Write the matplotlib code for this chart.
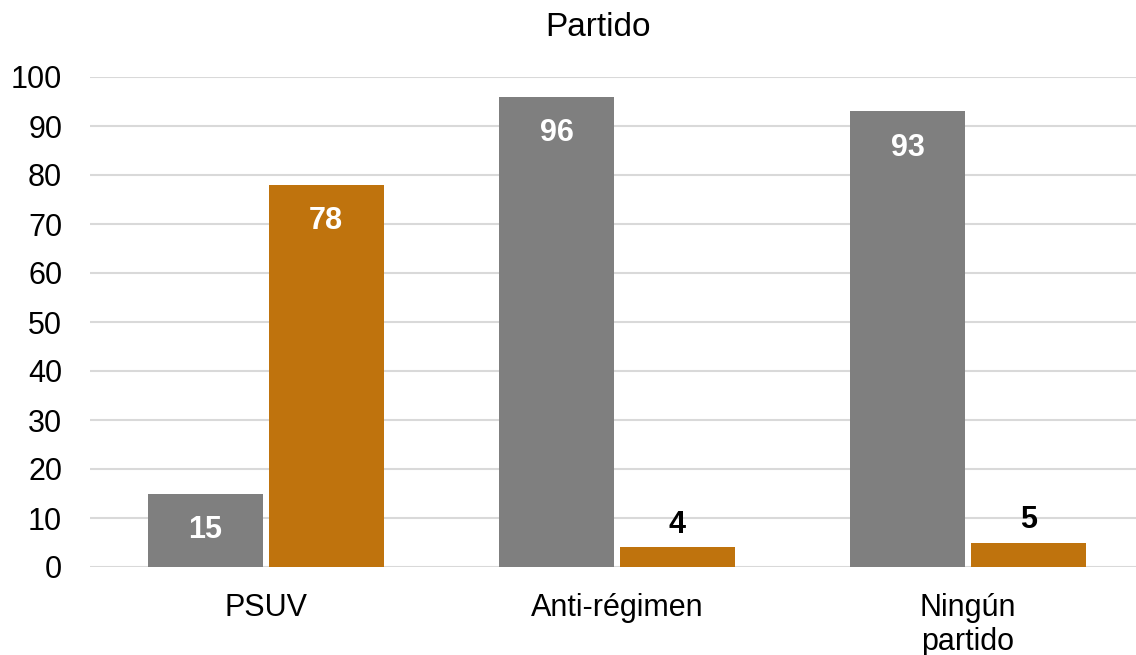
import numpy as np
import matplotlib
matplotlib.use("Agg")
import matplotlib.pyplot as plt

# Datos
categorias = ["PSUV", "Anti-régimen", "Ningún\npartido"]
serie_gris = [15, 96, 93]
serie_naranja = [78, 4, 5]

plt.rcParams['font.family'] = ['Liberation Sans', 'DejaVu Sans']

fig = plt.figure(figsize=(11.36, 6.55), dpi=100)
ax = fig.add_axes([90/1136, 88/655, 1046/1136, 490/655])

x = np.arange(len(categorias))
ancho = 0.328
b1 = ax.bar(x - 0.172, serie_gris, ancho, color="#7F7F7F", zorder=3)
b2 = ax.bar(x + 0.172, serie_naranja, ancho, color="#BF730D", zorder=3)

# Etiquetas de datos
for barras in (b1, b2):
    for r in barras:
        v = r.get_height()
        cx = r.get_x() + r.get_width()/2
        if v > 10:
            ax.text(cx, v - 7.4, f"{v:g}", ha="center", va="center",
                    color="white", fontsize=22, fontweight="bold", zorder=4)
        else:
            ax.text(cx, v + 4.5, f"{v:g}", ha="center", va="center",
                    color="black", fontsize=22, fontweight="bold", zorder=4)

ax.set_xlim(-0.501, 2.479)
ax.set_ylim(0, 100)
ax.set_yticks(range(0, 101, 10))
ax.set_xticks(x)
ax.set_xticklabels(categorias, fontsize=22, linespacing=1.15)
ax.tick_params(axis="y", labelsize=22, length=0, pad=20)
ax.tick_params(axis="x", length=0, pad=19)
ax.grid(axis="y", color="#D9D9D9", linewidth=1.5, zorder=0)
for s in ax.spines.values():
    s.set_visible(False)

fig.text(598/1136, 1 - 28/655, "Partido", ha="center", va="center", fontsize=24)

fig.savefig("out.png", dpi=100)
